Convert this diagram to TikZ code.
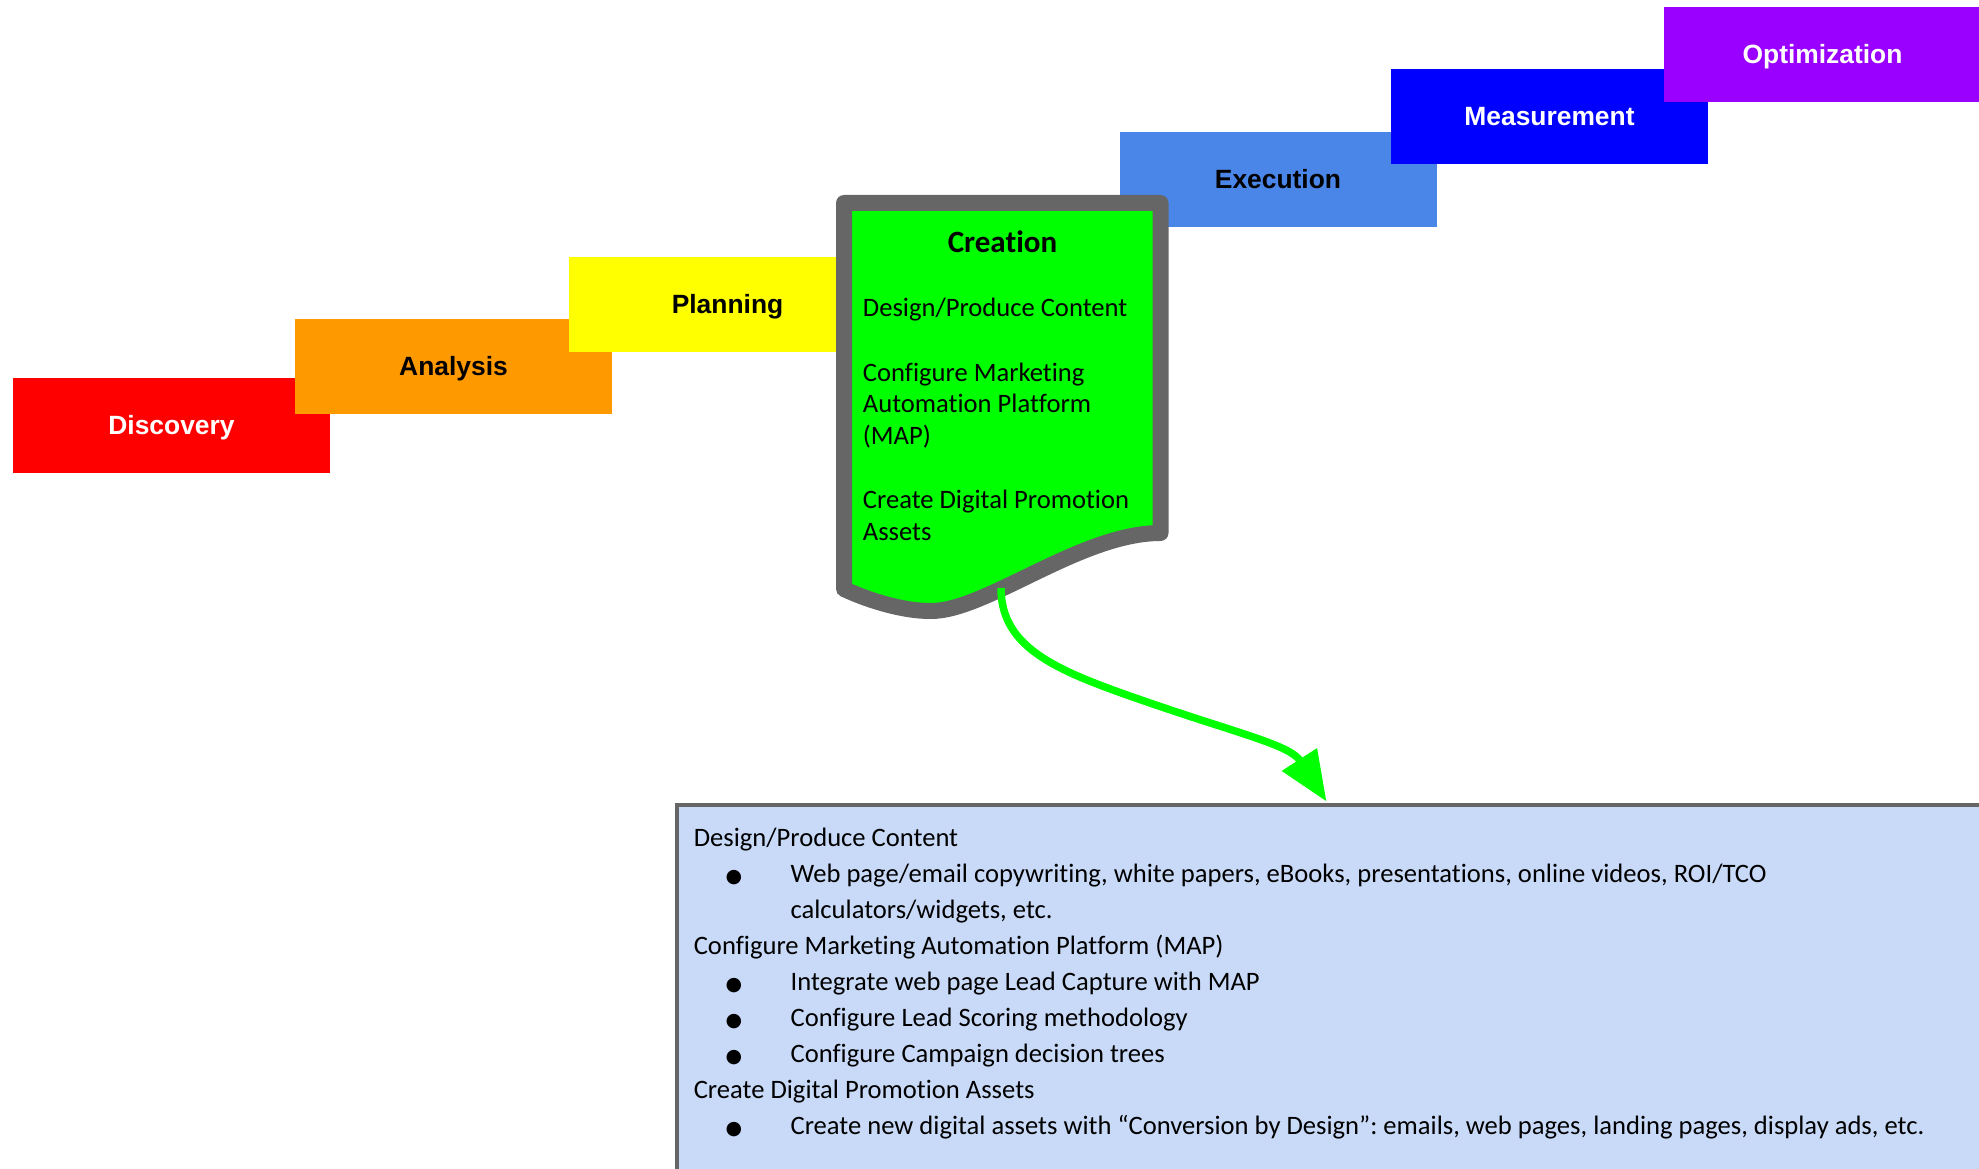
\documentclass[tikz,border=0pt]{standalone}
\usepackage{fontspec}
\setmainfont{Carlito}[Ligatures=NoCommon]
\newfontfamily\stagefont{Liberation Sans}
\newfontfamily\symfont{DejaVu Sans}
\usetikzlibrary{arrows.meta}
\frenchspacing

\definecolor{cDiscovery}{HTML}{FF0000}
\definecolor{cAnalysis}{HTML}{FF9900}
\definecolor{cPlanning}{HTML}{FFFF00}
\definecolor{cCreation}{HTML}{00FF00}
\definecolor{cExecution}{HTML}{4A86E8}
\definecolor{cMeasurement}{HTML}{0000FF}
\definecolor{cOptimization}{HTML}{9900FF}
\definecolor{edgegray}{HTML}{666666}
\definecolor{notefill}{HTML}{C9DAF8}

% bullet with hanging indent for the detail list
\newcommand\itemdot{\makebox[96.8pt][l]{\hspace*{33pt}\makebox[14pt][c]{\symfont\fontsize{19}{19}\selectfont ●}}}

\begin{document}
\begin{tikzpicture}[x=1pt,y=-1pt,
  stage/.style={rectangle, minimum width=317pt, minimum height=95pt,
    inner sep=0pt, text height=18.9pt, text depth=0pt,
    font=\stagefont\bfseries\fontsize{26.4}{30}\selectfont},
  creationshape/.style={draw=edgegray, fill=cCreation, line width=16pt, line join=round},
  notebox/.style={rectangle, draw=edgegray, fill=notefill, line width=3.5pt,
    minimum width=1400pt, minimum height=420pt, inner sep=0pt},
  textblock/.style={anchor=base west, inner sep=0pt},
  flow/.style={draw=cCreation, line width=7.5pt,
    -{Triangle[length=50pt, width=40pt]}}]

\useasboundingbox (0,0) rectangle (1979,1169);

% process stages, each one drawn over the previous one
\node[stage, fill=cDiscovery, text=white] (discovery) at (171.5,425.5) {Discovery};
\node[stage, fill=cAnalysis] (analysis) at (453.5,366.5) {Analysis};
\node[stage, fill=cPlanning] (planning) at (727.5,304.5) {Planning};
\node[stage, fill=cExecution] (execution) at (1278,179.5) {Execution};
\node[stage, fill=cMeasurement, text=white] (measurement) at (1549.5,116.5) {Measurement};
\node[stage, fill=cOptimization, text=white] (optimization) at (1822.5,54.5) {Optimization};

% highlighted stage: document shape with wavy bottom
\path[creationshape] (844,203) -- (1160.5,203) -- (1160.5,533)
  .. controls (1080,533) and (985,612) .. (930,611)
  .. controls (905,611) and (872,602) .. (844,589) -- cycle;
\node[anchor=base, font=\bfseries\fontsize{31}{37}\selectfont] (creation) at (1002.5,252) {Creation};
\node[textblock] (creationbody) at (862.7,316.7) {\parbox[t]{295pt}{\fontsize{26.6}{31.7}\selectfont
  Design/Produce Content\\[32.6pt]
  Configure Marketing\\
  Automation Platform\\
  (MAP)\\[32.6pt]
  Create Digital Promotion\\
  Assets}};
\coordinate (cstart) at (1001,588);

% detail panel
\node[notebox, anchor=north west] (detail) at (675,803) {};
\node[textblock] (detailtext) at (693.6,846.5) {\parbox[t]{1400pt}{\fontsize{26.6}{36}\selectfont
  Design/Produce Content\\
  \itemdot Web page/email copywriting, white papers, eBooks, presentations, online videos, ROI/TCO\\
  \hspace*{96.8pt}calculators/widgets, etc.\\
  Configure Marketing Automation Platform (MAP)\\
  \itemdot Integrate web page Lead Capture with MAP\\
  \itemdot Configure Lead Scoring methodology\\
  \itemdot Configure Campaign decision trees\\
  Create Digital Promotion Assets\\
  \itemdot Create new digital assets with “Conversion by Design”: emails, web pages, landing pages, display ads, etc.}};
\coordinate (tip) at (1326.5,801.5);

% connector from the highlighted stage to its detail panel
\draw[flow] (cstart) .. controls (1001,650) and (1060,672) .. (1150,703)
  .. controls (1240,734) and (1290,745) .. (tip);
\end{tikzpicture}
\end{document}
